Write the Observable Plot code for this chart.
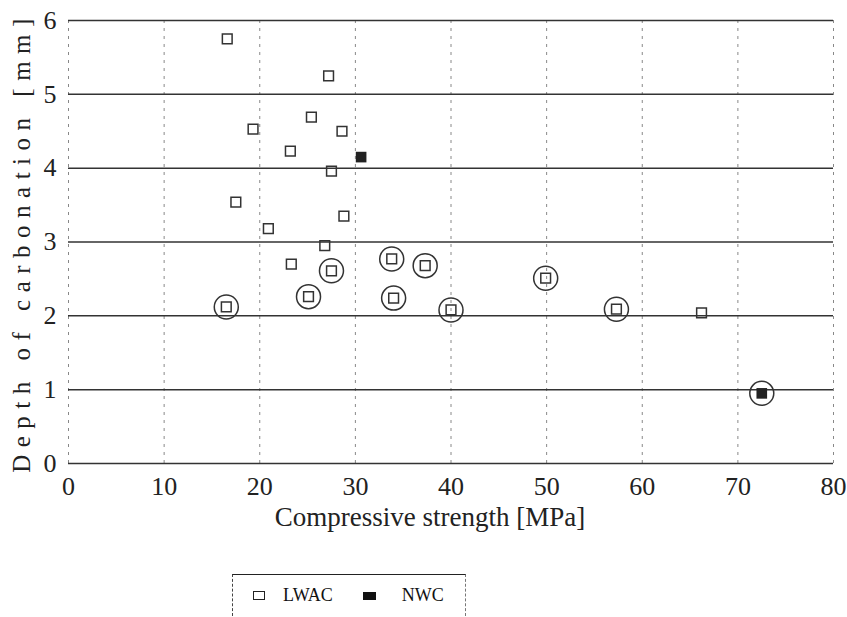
<!DOCTYPE html>
<html><head><meta charset="utf-8">
<script src="https://cdn.jsdelivr.net/npm/d3@7"></script>
<script src="https://cdn.jsdelivr.net/npm/@observablehq/plot@0.6"></script>
<style>
body{margin:0;background:#fff;font-family:"Liberation Serif","DejaVu Serif",serif;}
svg text{font-family:"Liberation Serif","DejaVu Serif",serif !important;}
#wrap{position:relative;width:847px;height:617px;}
#legend{position:absolute;left:232px;top:574px;width:234px;height:42px;border-top:1.5px solid #222;border-left:1.5px dashed #444;border-right:1.5px dashed #777;box-sizing:border-box;display:flex;align-items:center;font-size:18px;color:#111;}
.sq{display:inline-block;width:10px;height:7px;border:1.5px solid #222;margin-left:20px;margin-right:18px;}
.fsq{display:inline-block;width:13px;height:8px;background:#111;margin-left:30px;margin-right:26px;}
</style></head>
<body><div id="wrap"><div id="chart"></div>
<div id="legend"><span class="sq"></span><span>LWAC</span><span class="fsq"></span><span>NWC</span></div></div>
<script>
const xTicks = [0,10,20,30,40,50,60,70,80];
const yTicks = [0,1,2,3,4,5,6];
const lwacX = [16.6,27.2,19.3,25.4,28.6,23.2,27.5,17.5,28.8,20.9,26.8,23.3,16.5,25.1,27.5,33.8,37.3,34.0,40.0,49.9,57.3,66.2];
const lwacY = [5.75,5.25,4.53,4.69,4.5,4.23,3.96,3.54,3.35,3.18,2.95,2.70,2.12,2.26,2.61,2.77,2.68,2.24,2.08,2.51,2.09,2.04];
const nwcX = [30.6,72.5];
const nwcY = [4.15,0.95];
const circledX = [16.5,25.1,27.5,33.8,37.3,34.0,40.0,49.9,57.3,72.5];
const circledY = [2.12,2.26,2.61,2.77,2.68,2.24,2.08,2.51,2.09,0.95];

const lwac = lwacX.map((x,i)=>({x,y:lwacY[i]}));
const nwc = nwcX.map((x,i)=>({x,y:nwcY[i]}));
const circ = circledX.map((x,i)=>({x,y:circledY[i]}));

const chart = Plot.plot({
  width:847, height:550,
  marginLeft:68, marginRight:14, marginTop:20, marginBottom:87,
  style:{fontFamily:"'Liberation Serif', serif", background:"#fff", color:"#222"},
  x:{domain:[0,80]},
  y:{domain:[0,6]},
  marks:[
    Plot.ruleX(xTicks,{stroke:"#888",strokeWidth:1,strokeDasharray:"3,5"}),
    Plot.ruleY(yTicks,{stroke:"#333",strokeWidth:1.5}),
    Plot.axisX({ticks:xTicks,tickFormat:"d",tickSize:0,tickPadding:13,fontSize:26,label:null}),
    Plot.axisX({ticks:[],label:"Compressive strength [MPa]",labelAnchor:"center",labelArrow:"none",labelOffset:62,fontSize:27}),
    Plot.axisY({ticks:yTicks,tickFormat:"d",tickSize:0,tickPadding:12,fontSize:26,label:null}),
    Plot.axisY({ticks:[],label:"Depth of carbonation [mm]",labelAnchor:"center",labelArrow:"none",labelOffset:56,fontSize:25}),
    Plot.dot(circ,{x:"x",y:"y",r:12,stroke:"#333",strokeWidth:1.5,fill:"none"}),
    Plot.dot(lwac,{x:"x",y:"y",symbol:"square",r:5.5,stroke:"#333",strokeWidth:1.5,fill:"none"}),
    Plot.dot(nwc,{x:"x",y:"y",symbol:"square",r:6,fill:"#222",stroke:"none"})
  ]
});
chart.querySelectorAll('[aria-label="y-axis label"] text').forEach(t=>{t.style.letterSpacing="7.5px";});
chart.querySelectorAll('[aria-label="x-axis label"]').forEach(g=>{
  const tr = g.getAttribute("transform") || "";
  g.setAttribute("transform", "translate(-21,0) " + tr);
});
document.getElementById("chart").appendChild(chart);
</script></body></html>
